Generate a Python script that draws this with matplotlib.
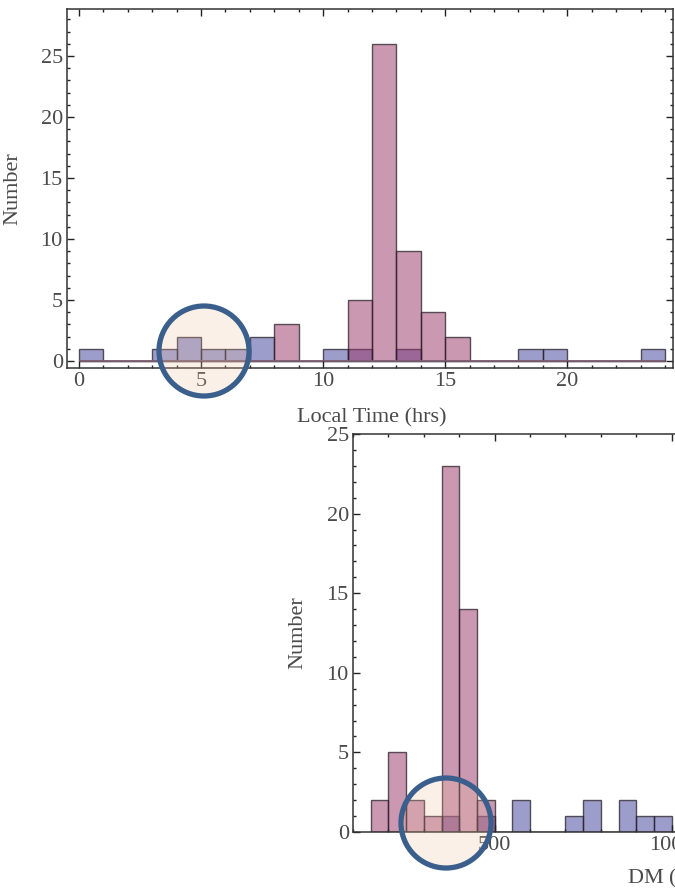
import numpy as np
import matplotlib
matplotlib.use("Agg")
import matplotlib.pyplot as plt
from matplotlib.patches import Circle
from matplotlib.ticker import MultipleLocator

# ---- data: local time histogram (1 hr bins, 0..24) ----
time_edges = np.arange(0, 25, 1)
time_blue = [1, 0, 0, 1, 2, 1, 1, 2, 0, 0, 1, 1, 0, 1, 0, 0, 0, 0, 1, 1, 0, 0, 0, 1]
time_pink = [0, 0, 0, 0, 0, 0, 0, 0, 3, 0, 0, 5, 26, 9, 4, 2, 0, 0, 0, 0, 0, 0, 0, 0]

# ---- data: DM histogram (50 pc cm^-3 bins) ----
dm_edges = np.arange(150, 1051, 50)
dm_blue = [0, 0, 0, 0, 1, 0, 1, 0, 2, 0, 0, 1, 2, 0, 2, 1, 1, 0]
dm_pink = [2, 5, 2, 1, 23, 14, 2, 0, 0, 0, 0, 0, 0, 0, 0, 0, 0, 0]

BLUE = (0.24, 0.24, 0.60, 0.5)
PINK = (0.60, 0.20, 0.40, 0.5)
EDGE = (0.15, 0.12, 0.15, 0.75)
TEXT = "#4a4a4a"
FONT = "Liberation Serif"

plt.rcParams["font.family"] = FONT

W, H = 675, 888
fig = plt.figure(figsize=(W / 100, H / 100), dpi=100)


def px_axes(left, top, right, bottom):
    return fig.add_axes([left / W, 1 - bottom / H, (right - left) / W, (bottom - top) / H])


def style(ax, xmajor, xminor):
    ax.xaxis.set_major_locator(MultipleLocator(xmajor))
    ax.xaxis.set_minor_locator(MultipleLocator(xminor))
    ax.yaxis.set_major_locator(MultipleLocator(5))
    ax.yaxis.set_minor_locator(MultipleLocator(1))
    ax.tick_params(which="both", direction="in", top=True, right=True,
                   color="#222222", labelcolor=TEXT, labelsize=16, pad=3)
    ax.tick_params(which="major", length=5, width=1.0)
    ax.tick_params(which="minor", length=2.5, width=1.0)
    for s in ax.spines.values():
        s.set_color("#333333")
        s.set_linewidth(1.1)


def hist(ax, edges, counts, color):
    ax.bar(edges[:-1], counts, width=np.diff(edges), align="edge",
           color=color, edgecolor=EDGE, linewidth=1.0)


# ---- top panel: local time ----
ax1 = px_axes(67, 9, 673, 368)
hist(ax1, time_edges, time_blue, BLUE)
hist(ax1, time_edges, time_pink, PINK)
ax1.hlines(0, time_edges[0], time_edges[-1], color="#7d5f73", lw=1.3, zorder=1)
ax1.set_xlim(-0.49, 24.33)
ax1.set_ylim(-0.57, 28.85)
style(ax1, 5, 1)
ax1.set_xlabel("Local Time (hrs)", fontsize=16, color=TEXT)
ax1.xaxis.set_label_coords(0.503, -0.111)
ax1.set_ylabel("Number", fontsize=16, color=TEXT)
ax1.yaxis.set_label_coords(-0.074, 0.5)

# ---- bottom panel: DM (runs off the right edge) ----
ax2 = px_axes(353, 434, 707, 832)
hist(ax2, dm_edges, dm_blue, BLUE)
hist(ax2, dm_edges, dm_pink, PINK)
ax2.set_xlim(100, 1100)
ax2.set_ylim(0, 25)
style(ax2, 500, 100)
ax2.set_ylabel("Number", fontsize=16, color=TEXT)
ax2.yaxis.set_label_coords(-0.13, 0.5)
fig.text(627 / W, 1 - 877 / H, r"DM (pc cm$^{-3}$)", fontsize=16, color=TEXT,
         ha="left", va="center")

# ---- highlight circles drawn over everything ----
over = fig.add_axes([0, 0, 1, 1], zorder=10)
over.set_xlim(0, W)
over.set_ylim(H, 0)
over.axis("off")
over.patch.set_alpha(0)
for cx, cy in [(204, 351), (446, 823)]:
    over.add_patch(Circle((cx, cy), 45, facecolor=(0.94, 0.76, 0.62, 0.24),
                          edgecolor="#3b5f8c", linewidth=3.8))

fig.savefig("out.png", dpi=100)
